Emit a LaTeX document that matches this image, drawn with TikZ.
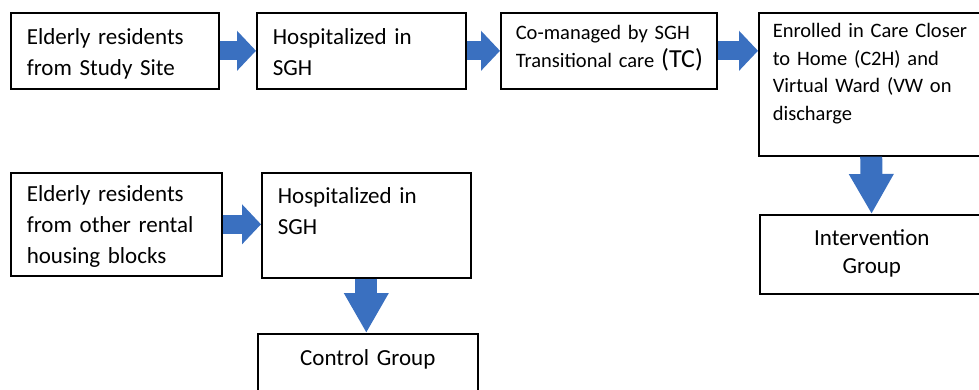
\documentclass[tikz,border=0pt]{standalone}
\usepackage{fontspec}
\setmainfont{Carlito}
\usetikzlibrary{arrows.meta}
\definecolor{arrowblue}{RGB}{58,112,192}
\newcommand{\bigfont}{\fontsize{23}{31}\selectfont}
\newcommand{\midfont}{\fontsize{20.5}{27.5}\selectfont}

\begin{document}
\begin{tikzpicture}[x=1pt,y=-1pt,
    stage/.style={draw,line width=1.6pt,anchor=north west,inner xsep=16pt,inner ysep=0pt,align=left},
    flow/.style={draw=arrowblue,line width=19pt,-{Triangle[length=19pt,width=39pt]}},
    drop/.style={draw=arrowblue,line width=22pt,-{Triangle[length=40pt,width=42pt]}}]
  \useasboundingbox (0,0) rectangle (979,390);
  \clip (0,0) rectangle (979,390);

  % study site path
  \node[stage,font=\bigfont,text width=176pt,text height=32pt,text depth=44pt] (site) at (10,12)
    {Elderly residents\\from Study Site};
  \node[stage,font=\bigfont,text width=177pt,text height=32pt,text depth=44pt] (hosp) at (256,12)
    {Hospitalized in\\SGH};
  \node[stage,font=\midfont,inner xsep=15pt,text width=186pt,text height=27pt,text depth=49pt] (tc) at (500,12)
    {Co-managed by SGH\\Transitional~care~{\fontsize{26}{27.5}\selectfont(TC)}};
  \node[stage,font=\midfont,inner xsep=14pt,text width=196pt,text height=25pt,text depth=118pt] (c2h) at (758,12)
    {Enrolled in Care Closer\\to Home (C2H) and\\Virtual Ward (VW on\\discharge};
  \node[stage,font=\fontsize{23}{28}\selectfont,align=center,text width=192pt,text height=31pt,text depth=48pt] (interv) at (759,214)
    {Intervention\\Group};

  % other blocks path
  \node[stage,font=\bigfont,text width=179pt,text height=29pt,text depth=74pt] (other) at (10,172)
    {Elderly residents\\from other rental\\housing blocks};
  \node[stage,font=\bigfont,text width=177pt,text height=31pt,text depth=74pt] (hosp2) at (261,172)
    {Hospitalized in\\SGH};
  \node[stage,font=\bigfont,align=center,text width=188pt,text height=32pt,text depth=60pt] (ctrl) at (257,333)
    {Control Group};

  \draw[flow] (site) -- (hosp);
  \draw[flow] (hosp) -- (tc);
  \draw[flow] (tc.east) -- (tc.east -| c2h.west);
  \draw[drop] (c2h) -- (interv);
  \draw[flow] (other.east) -- (other.east -| hosp2.west);
  \draw[drop] (hosp2.south) -- (hosp2.south |- ctrl.north);
\end{tikzpicture}
\end{document}
